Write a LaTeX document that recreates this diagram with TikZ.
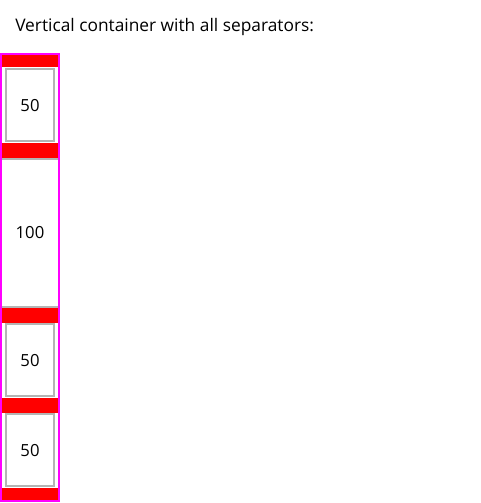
\documentclass[tikz,border=0pt]{standalone}
\usepackage{fontspec}
\setmainfont{Open Sans}
\usepackage{tikz}
\usepackage{xcolor}
\usetikzlibrary{positioning}

\definecolor{sepred}{RGB}{255,0,0}
\definecolor{framemag}{RGB}{255,0,255}
\definecolor{cellgray}{RGB}{180,180,180}

\begin{document}
\begin{tikzpicture}[x=0.75pt, y=-0.75pt,
    sepbar/.style={fill=sepred, draw=none},
    cell/.style={draw=cellgray, line width=1.5pt, fill=white},
    celltext/.style={font=\fontsize{12.5pt}{14pt}\selectfont, inner sep=0pt}]
    \useasboundingbox (0,0) rectangle (480,503);
    \fill[white] (0,0) rectangle (480,503);

    % Title
    \node[anchor=west, inner sep=0pt, font=\fontsize{13pt}{15pt}\selectfont] (title) at (15,27) {Vertical container with all separators:};

    % Separators
    \fill[sepbar] (2,55) rectangle (58,67.5);
    \fill[sepbar] (2,142.5) rectangle (58,158);
    \fill[sepbar] (2,308) rectangle (58,322.5);
    \fill[sepbar] (2,397.5) rectangle (58,412.5);
    \fill[sepbar] (2,487.5) rectangle (58,500);

    % Cells
    \draw[cell] (6,69.3) rectangle (54,141.3);
    \draw[cell] (1,159.2) rectangle (59,307);
    \draw[cell] (6,324) rectangle (54,396.3);
    \draw[cell] (6,414) rectangle (54,486.3);

    % Labels
    \node[celltext] (cella) at (30,105.5) {50};
    \node[celltext] (cellb) at (30,233) {100};
    \node[celltext] (cellc) at (30,360.5) {50};
    \node[celltext] (celld) at (30,450.5) {50};

    % Container frame
    \draw[framemag, line width=1.5pt] (1,54) rectangle (59,501);
\end{tikzpicture}
\end{document}
